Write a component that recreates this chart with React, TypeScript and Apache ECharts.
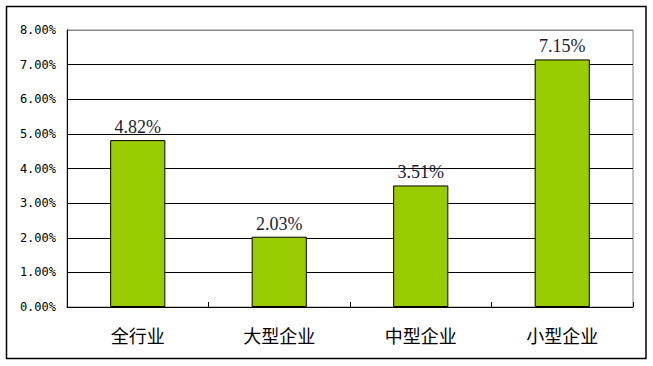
import React, { useEffect, useRef } from "react";
import * as echarts from "echarts";

const categories = ["全行业", "大型企业", "中型企业", "小型企业"];
const values = [4.82, 2.03, 3.51, 7.15];
const yTicks = [0, 1, 2, 3, 4, 5, 6, 7, 8];

export default function App() {
  const ref = useRef<HTMLDivElement>(null);
  useEffect(() => {
    document.body.style.margin = "0";
    const chart = echarts.init(ref.current!, null, { renderer: "svg" });
    const splitColors = yTicks.map((v, i) => (i === yTicks.length - 1 ? "#888888" : "#000000"));
    chart.setOption({
      animation: false,
      backgroundColor: "#ffffff",
      grid: {
        left: 67,
        right: 20,
        top: 30,
        bottom: 59,
        show: true,
        borderColor: "#888888",
        borderWidth: 1,
      },
      graphic: [
        {
          type: "rect",
          shape: { x: 6.5, y: 6.5, width: 639.5, height: 352 },
          style: { fill: "none", stroke: "#000", lineWidth: 1.5 },
          silent: true,
        },
      ],
      xAxis: {
        type: "category",
        data: categories,
        axisLine: { lineStyle: { color: "#000", width: 1 } },
        axisTick: { show: true, inside: true, length: 5, lineStyle: { color: "#000" } },
        axisLabel: {
          color: "#000",
          fontSize: 18,
          fontFamily: "Noto Sans CJK SC",
          fontWeight: "normal",
          margin: 19,
        },
      },
      yAxis: {
        type: "value",
        min: 0,
        max: 8,
        interval: 1,
        axisLine: { show: true, lineStyle: { color: "#000", width: 1 } },
        axisTick: { show: false },
        axisLabel: {
          color: "#000",
          fontSize: 12,
          fontFamily: "DejaVu Sans Mono",
          margin: 11,
          formatter: (v: number) => v.toFixed(2) + "%",
        },
        splitLine: { show: true, lineStyle: { color: splitColors, width: 1 } },
      },
      series: [
        {
          type: "bar",
          data: values,
          barWidth: "39%",
          itemStyle: { color: "#99CC00", borderColor: "#000", borderWidth: 1 },
          label: {
            show: true,
            position: "top",
            distance: 4,
            color: "#1a1a33",
            fontSize: 18,
            fontFamily: "Liberation Serif",
            formatter: (p: any) => p.value.toFixed(2) + "%",
          },
        },
      ],
    });
    return () => chart.dispose();
  }, []);
  return <div ref={ref} style={{ width: 653, height: 366 }} />;
}
